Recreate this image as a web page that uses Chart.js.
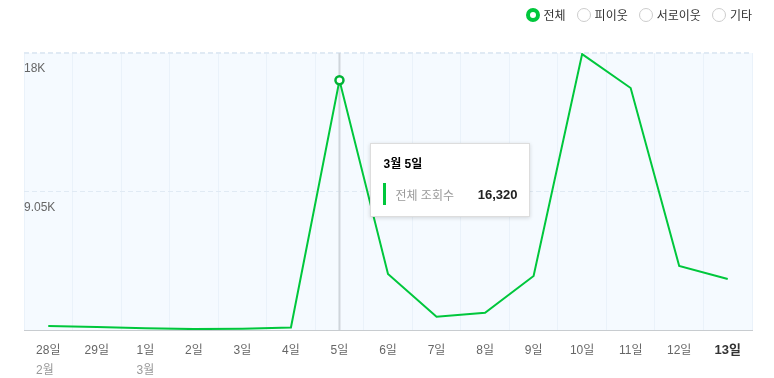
<!DOCTYPE html>
<html>
<head>
<meta charset="utf-8">
<script src="https://cdn.jsdelivr.net/npm/chart.js@4"></script>
<style>
  html, body { margin: 0; padding: 0; background: #fff; }
  body { width: 774px; height: 378px; position: relative; overflow: hidden;
         font-family: "Liberation Sans", "Noto Sans CJK KR", sans-serif; }
  #wrap { position: absolute; left: 0; top: 0; width: 774px; height: 378px; }
  .legend { position: absolute; top: 6px; right: 22px; display: flex; font-size: 12px; color: #333; }
  .legend span { display: flex; align-items: center; margin-left: 11px; }
  .radio { width: 14px; height: 14px; border: 1px solid #ccc; border-radius: 50%; margin-right: 4px; box-sizing: border-box; background: #fff; }
  .radio.on { border: 4.5px solid #00c73c; }
  #tip { position: absolute; background: #fff; border: 1px solid #ddd; box-shadow: 0 1px 4px rgba(0,0,0,0.15);
         width: 160px; height: 74px; box-sizing: border-box; padding: 10px 12px; display: none; }
  #tip .t { font-size: 12px; font-weight: bold; color: #000; }
  #tip .r { display: flex; align-items: center; margin-top: 12px; font-size: 12px; }
  #tip .bar { width: 3px; height: 22px; background: #00c73c; margin-right: 9px; }
  #tip .n { color: #999; flex: 1; }
  #tip .v { font-weight: bold; color: #222; font-size: 13px; }
</style>
</head>
<body>
<div id="wrap"><canvas id="chart" width="774" height="378"></canvas></div>
<div class="legend">
  <span><i class="radio on"></i>전체</span>
  <span><i class="radio"></i>피이웃</span>
  <span><i class="radio"></i>서로이웃</span>
  <span><i class="radio"></i>기타</span>
</div>
<div id="tip"><div class="t"></div><div class="r"><i class="bar"></i><span class="n">전체 조회수</span><span class="v"></span></div></div>
<script>
// 날짜 (x축)
var days   = ["28일", "29일", "1일", "2일", "3일", "4일", "5일", "6일", "7일", "8일", "9일", "10일", "11일", "12일", "13일"];
var months = ["2월", "", "3월", "", "", "", "", "", "", "", "", "", "", "", ""];
var fullDates = ["2월 28일", "2월 29일", "3월 1일", "3월 2일", "3월 3일", "3월 4일", "3월 5일", "3월 6일",
                 "3월 7일", "3월 8일", "3월 9일", "3월 10일", "3월 11일", "3월 12일", "3월 13일"];

// 전체 조회수
var views = [260, 200, 120, 60, 80, 170, 16320, 3660, 870, 1130, 3530, 18030, 15810, 4180, 3330];

// y축 눈금
var yTicks      = [0, 9050, 18100];
var yTickLabels = ["", "9.05K", "18K"];

var activeIndex = 6;   // 툴팁이 떠있는 날짜
var lineColor = "#00c73c";
var tickFont = "12px 'Liberation Sans', 'Noto Sans CJK KR', sans-serif";

var bgPlugin = {
  id: "bg",
  beforeDraw: function (c) {
    var a = c.chartArea, ctx = c.ctx;
    ctx.save();
    ctx.fillStyle = "#f5faff";
    ctx.fillRect(a.left, a.top, a.right - a.left, a.bottom - a.top);
    ctx.restore();
  },
  beforeDatasetsDraw: function (c) {
    var a = c.chartArea, ctx = c.ctx;
    var x = c.scales.x.getPixelForValue(activeIndex);
    ctx.save();
    ctx.strokeStyle = "#cfd5db";
    ctx.lineWidth = 2;
    ctx.beginPath();
    ctx.moveTo(x, a.top);
    ctx.lineTo(x, a.bottom);
    ctx.stroke();
    ctx.restore();
  },
  afterDraw: function (c) {
    // 월 표시: 날짜 라벨 아래 왼쪽 정렬
    var ctx = c.ctx, xs = c.scales.x;
    ctx.save();
    ctx.font = tickFont;
    ctx.fillStyle = "#999";
    ctx.textBaseline = "middle";
    ctx.textAlign = "left";
    months.forEach(function (m, i) {
      if (!m) return;
      var w = ctx.measureText(days[i]).width;
      ctx.fillText(m, xs.getPixelForValue(i) - w / 2, c.chartArea.bottom + 41);
    });
    ctx.restore();
  }
};

function externalTip(context) {
  var tt = context.tooltip, el = document.getElementById("tip");
  if (tt.opacity === 0) { el.style.display = "none"; return; }
  var i = tt.dataPoints[0].dataIndex;
  el.querySelector(".t").textContent = fullDates[i];
  el.querySelector(".v").textContent = views[i].toLocaleString("en-US");
  el.style.display = "block";
  el.style.left = (tt.caretX + 31) + "px";
  el.style.top = (tt.caretY + 63) + "px";
}

var ctx = document.getElementById("chart").getContext("2d");
var chart = new Chart(ctx, {
  type: "line",
  data: {
    labels: days,
    datasets: [{
      label: "전체 조회수",
      data: views,
      borderColor: lineColor,
      borderWidth: 2,
      tension: 0,
      pointRadius: views.map(function (v, i) { return i === activeIndex ? 4 : 0; }),
      pointBackgroundColor: "#fff",
      pointBorderColor: lineColor,
      pointBorderWidth: 2.5,
      pointHoverRadius: 4,
      pointHoverBorderWidth: 2.5,
      pointHoverBackgroundColor: "#fff"
    }]
  },
  options: {
    responsive: false,
    animation: false,
    events: [],
    layout: { padding: { top: 53, left: 24, right: 22, bottom: 0 } },
    plugins: {
      legend: { display: false },
      tooltip: { enabled: false, external: externalTip }
    },
    scales: {
      x: {
        offset: true,
        afterFit: function (axis) { axis.height = 48; },
        grid: { offset: true, color: "#eaf2fa", lineWidth: 1, drawTicks: false },
        border: { display: true, color: "#c8ccd0", width: 1 },
        ticks: {
          padding: 13,
          maxRotation: 0,
          autoSkip: false,
          color: function (c) { return c.index === days.length - 1 ? "#333" : "#666"; },
          font: function (c) {
            var last = c.index === days.length - 1;
            return { family: "'Liberation Sans', 'Noto Sans CJK KR', sans-serif", size: last ? 13 : 12, weight: last ? "bold" : "normal" };
          }
        }
      },
      y: {
        min: 0,
        max: 18100,
        afterBuildTicks: function (axis) {
          axis.ticks = yTicks.map(function (v) { return { value: v }; });
        },
        grid: {
          color: "#e0eaf4",
          lineWidth: function (c) { return c.index === yTicks.length - 1 ? 2 : 1; },
          drawTicks: false
        },
        border: { display: false, dash: [5, 3] },
        ticks: {
          mirror: true,
          padding: 0,
          labelOffset: 16,
          color: "#666",
          font: { family: "'Liberation Sans', sans-serif", size: 12 },
          callback: function (v) { return yTickLabels[yTicks.indexOf(v)]; }
        }
      }
    }
  },
  plugins: [bgPlugin]
});

chart.setActiveElements([{ datasetIndex: 0, index: activeIndex }]);
var pt = chart.getDatasetMeta(0).data[activeIndex];
chart.tooltip.setActiveElements([{ datasetIndex: 0, index: activeIndex }], { x: pt.x, y: pt.y });
chart.update();
</script>
</body>
</html>
